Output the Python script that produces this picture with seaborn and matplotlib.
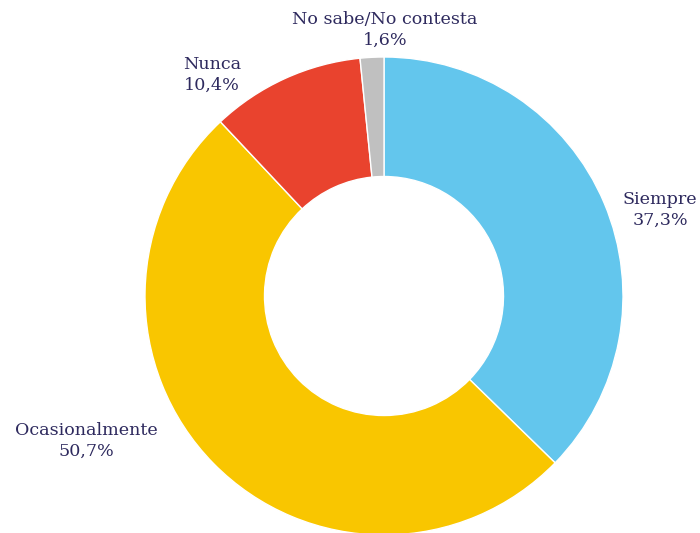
import matplotlib
matplotlib.use("Agg")
import matplotlib.pyplot as plt
import seaborn as sns

sns.set_theme(style="white")
plt.rcParams["font.family"] = ["DejaVu Serif"]

categories = ["Siempre", "Ocasionalmente", "Nunca", "No sabe/No contesta"]
values = [37.3, 50.7, 10.4, 1.6]
colors = ["#63c6ed", "#f9c600", "#e9432e", "#c0c0c0"]
# label anchor positions in units of the outer radius
label_pos = [(1.155, 0.36), (-1.247, -0.607), (-0.72, 0.925), (0.004, 1.113)]
text_color = "#2e2a5e"

fig = plt.figure(figsize=(7.0, 5.33), dpi=100)
W, H = 700, 533
cx, cy, r = 384, 296, 239
ax = fig.add_axes([(cx - r) / W, (H - cy - r) / H, 2 * r / W, 2 * r / H])

ax.pie(values, colors=colors, startangle=90, counterclock=False, radius=1,
       wedgeprops=dict(width=0.5, edgecolor="white", linewidth=1.0))
ax.set_xlim(-1, 1)
ax.set_ylim(-1, 1)
ax.set_aspect("equal")
ax.axis("off")

for cat, val, (x, y) in zip(categories, values, label_pos):
    txt = f"{cat}\n{val:.1f}%".replace(".", ",")
    ax.text(x, y, txt, ha="center", va="center", color=text_color,
            fontsize=12.6, linespacing=1.25, clip_on=False)

fig.savefig("out.png", dpi=100)
